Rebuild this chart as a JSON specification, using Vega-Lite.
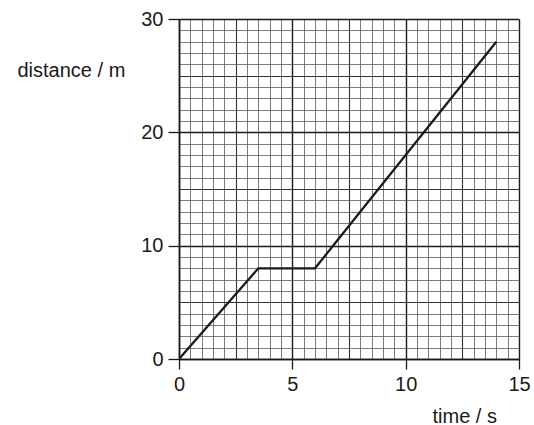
{
  "$schema": "https://vega.github.io/schema/vega-lite/v6.json",
  "width": 340,
  "height": 340,
  "autosize": {"type": "none"},
  "padding": {"left": 179, "top": 19, "right": 15, "bottom": 66},
  "background": "white",
  "data": {
    "values": [
      {"time": 0, "distance": 0},
      {"time": 3.5, "distance": 8},
      {"time": 6, "distance": 8},
      {"time": 14, "distance": 28}
    ]
  },
  "mark": {"type": "line", "color": "#1a1a1a", "strokeWidth": 2.3, "strokeJoin": "miter", "clip": true},
  "encoding": {
    "x": {
      "field": "time",
      "type": "quantitative",
      "scale": {"domain": [0, 15], "nice": false, "zero": false},
      "axis": {
        "values": [0, 0.5, 1, 1.5, 2, 2.5, 3, 3.5, 4, 4.5, 5, 5.5, 6, 6.5, 7, 7.5, 8, 8.5, 9, 9.5, 10, 10.5, 11, 11.5, 12, 12.5, 13, 13.5, 14, 14.5, 15],
        "labelExpr": "datum.value % 5 === 0 ? format(datum.value, 'd') : ''",
        "labelOverlap": false,
        "labelFlush": false,
        "labelBaseline": "alphabetic",
        "labelPadding": 21,
        "tickSize": 10,
        "tickWidth": 1.3,
        "tickColor": "#1a1a1a",
        "tickOpacity": {"condition": {"test": "datum.value % 5 === 0", "value": 1}, "value": 0},
        "grid": true,
        "gridColor": {"condition": [{"test": "datum.value % 5 === 0", "value": "#1a1a1a"}, {"test": "datum.value % 2.5 === 0", "value": "#333333"}], "value": "#5a5a5a"},
        "gridWidth": {"condition": [{"test": "datum.value % 5 === 0", "value": 1.4}, {"test": "datum.value % 2.5 === 0", "value": 1.1}], "value": 0.8},
        "gridOpacity": 1,
        "title": "time / s",
        "titleX": 253,
        "titleY": 63,
        "titleAlign": "left",
        "titleBaseline": "alphabetic",
        "titleAnchor": null
      }
    },
    "y": {
      "field": "distance",
      "type": "quantitative",
      "scale": {"domain": [0, 30], "nice": false, "zero": false},
      "axis": {
        "values": [0, 1, 2, 3, 4, 5, 6, 7, 8, 9, 10, 11, 12, 13, 14, 15, 16, 17, 18, 19, 20, 21, 22, 23, 24, 25, 26, 27, 28, 29, 30],
        "labelExpr": "datum.value % 10 === 0 ? format(datum.value, 'd') : ''",
        "labelOverlap": false,
        "labelFlush": false,
        "labelPadding": 5,
        "tickSize": 11,
        "tickWidth": 1.3,
        "tickColor": "#1a1a1a",
        "tickOpacity": {"condition": {"test": "datum.value % 10 === 0", "value": 1}, "value": 0},
        "grid": true,
        "gridColor": {"condition": [{"test": "datum.value % 10 === 0", "value": "#1a1a1a"}, {"test": "datum.value % 5 === 0", "value": "#333333"}], "value": "#5a5a5a"},
        "gridWidth": {"condition": [{"test": "datum.value % 10 === 0", "value": 1.4}, {"test": "datum.value % 5 === 0", "value": 1.1}], "value": 0.8},
        "gridOpacity": 1,
        "title": "distance / m",
        "titleAngle": 0,
        "titleX": -162,
        "titleY": 57,
        "titleAlign": "left",
        "titleBaseline": "alphabetic",
        "titleAnchor": null
      }
    }
  },
  "config": {
    "view": {"stroke": null},
    "font": "Liberation Sans",
    "axis": {
      "domainColor": "#1a1a1a",
      "domainWidth": 1.6,
      "labelFont": "Liberation Sans",
      "labelFontSize": 20,
      "labelColor": "#1a1a1a",
      "titleFont": "Liberation Sans",
      "titleFontSize": 20,
      "titleFontWeight": "normal",
      "titleColor": "#1a1a1a"
    }
  }
}
